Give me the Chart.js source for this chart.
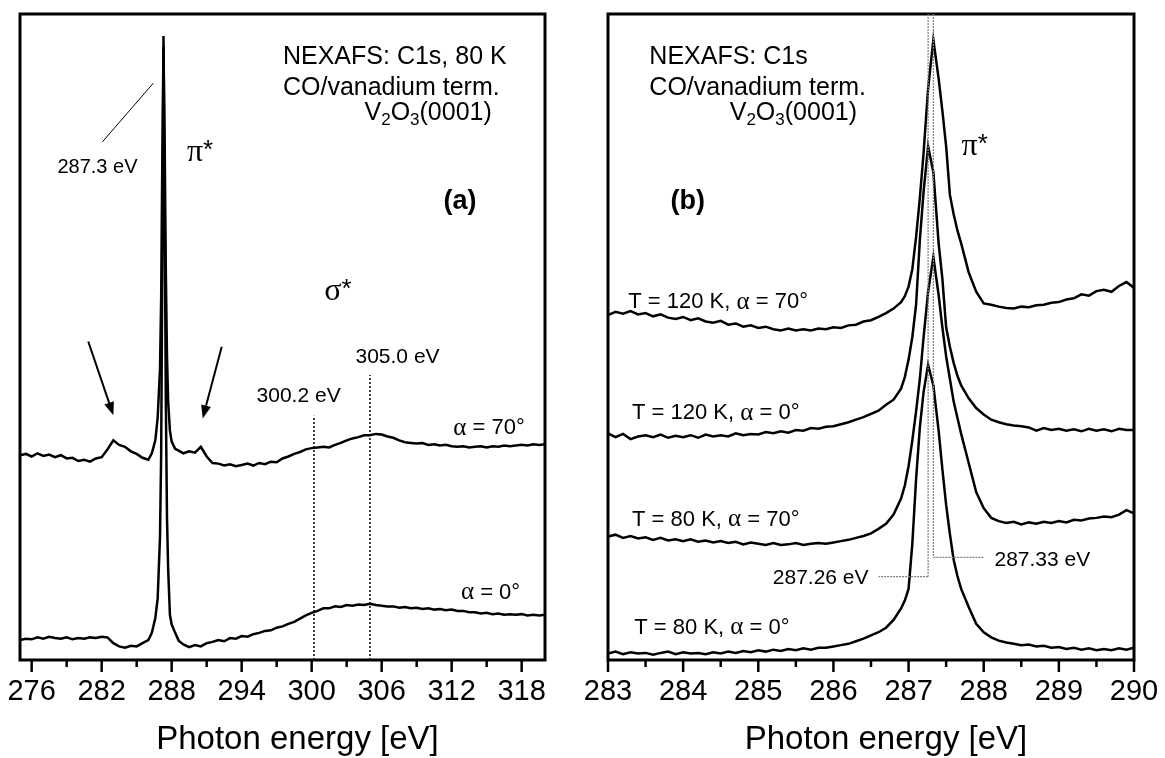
<!DOCTYPE html>
<html>
<head>
<meta charset="utf-8">
<script src="https://cdn.jsdelivr.net/npm/chart.js@4"></script>
<style>
  html, body { margin: 0; padding: 0; background: #fff; }
  #wrap { position: relative; width: 1165px; height: 758px; }
  canvas { position: absolute; top: 0; }
  #leftChart { left: 0; width: 580px; height: 758px; }
  #rightChart { left: 580px; width: 585px; height: 758px; }
</style>
</head>
<body>
<div id="wrap">
  <canvas id="leftChart" width="580" height="758"></canvas>
  <canvas id="rightChart" width="585" height="758"></canvas>
</div>
<script>
// ---- panel (a): wide scan, photon energy [eV] ----
const leftEnergy = [
  275, 275.5, 276, 276.5, 277, 277.5, 278, 278.5, 279, 279.5, 280, 280.5, 281, 281.5, 282, 282.5, 283, 283.5, 284, 284.5, 285, 285.5,
  286.0, 286.3, 286.6, 286.8, 287.0, 287.1, 287.2, 287.3, 287.4, 287.5, 287.6, 287.7, 287.85, 288.0, 288.3, 288.6,
  289, 289.5, 290, 290.5, 291, 291.5, 292, 292.5, 293, 293.5,
  294, 294.5, 295, 295.5, 296, 296.5, 297, 297.5, 298, 298.5,
  299, 299.5, 300, 300.5, 301, 301.5, 302, 302.5, 303, 303.5,
  304, 304.5, 305, 305.5, 306, 306.5, 307, 307.5, 308, 308.5,
  309, 309.5, 310, 310.5, 311, 311.5, 312, 312.5, 313, 313.5,
  314, 314.5, 315, 315.5, 316, 316.5, 317, 317.5, 318, 318.5,
  319, 319.5, 320
];
const leftAlpha70 = [
  31.7, 31.9, 31.5, 32.0, 31.6, 31.8, 31.4, 31.7, 31.2, 31.3, 30.8, 31.0, 30.7, 31.2, 31.4, 32.6, 34.0, 33.3, 33.0, 32.3, 31.9, 31.3,
  31.0, 32.0, 34.0, 37.5, 45, 56, 78, 95, 80, 60, 47, 40, 35.5, 33.8, 32.7, 32.4,
  32.0, 32.3, 32.1, 33.0, 31.5, 30.5, 30.4, 30.1, 30.3, 30.0,
  30.2, 30.4, 30.1, 30.5, 30.3, 30.7, 30.6, 31.2, 31.5, 31.9,
  32.2, 32.6, 32.8, 32.9, 33.0, 32.9, 33.3, 33.6, 34.0, 34.3,
  34.5, 34.8, 34.8, 35.0, 34.9, 34.6, 34.4, 34.0, 33.7, 33.6,
  33.5, 33.6, 33.3, 33.4, 33.2, 33.3, 33.1, 33.0, 33.1, 32.9,
  33.0, 33.1, 32.9, 33.1, 33.0, 33.2, 33.1, 33.2, 33.3, 33.2,
  33.4, 33.3, 33.4
];
const leftAlpha0 = [
  3.1, 3.3, 3.2, 3.5, 3.3, 3.6, 3.4, 3.3, 3.5, 3.2, 3.4, 3.3, 3.5, 3.4, 3.6, 3.5, 2.6, 2.1, 1.9, 2.2, 2.1, 2.6,
  3.1, 4.2, 6.5, 9.5, 19, 32, 62, 96.6, 70, 40, 22, 14, 7, 5.5, 4.2, 3.0,
  2.4, 2.0, 2.3, 2.1, 2.6, 2.8, 3.1, 2.9, 3.4, 3.3,
  3.7, 3.6, 4.0, 4.2, 4.5, 4.6, 5.0, 5.2, 5.6, 5.9,
  6.4, 6.9, 7.3, 7.6, 8.0, 8.0, 8.3, 8.2, 8.5, 8.4,
  8.6, 8.5, 8.7, 8.5, 8.4, 8.3, 8.3, 8.1, 8.2, 8.0,
  8.1, 7.9, 8.0, 7.8, 7.9, 7.7, 7.8, 7.6, 7.6, 7.4,
  7.4, 7.2, 7.3, 7.1, 7.2, 7.0, 7.1, 7.0, 7.1, 6.9,
  7.0, 6.9, 7.0
];
const leftTicksMajor = [276, 282, 288, 294, 300, 306, 312, 318];
const leftTicksMinor = [279, 285, 291, 297, 303, 309, 315];

// ---- panel (b): pi* region ----
const rightEnergy = [
  283.0, 283.1, 283.2, 283.3, 283.4, 283.5, 283.6, 283.7, 283.8, 283.9,
  284.0, 284.1, 284.2, 284.3, 284.4, 284.5, 284.6, 284.7, 284.8, 284.9,
  285.0, 285.1, 285.2, 285.3, 285.4, 285.5, 285.6, 285.7, 285.8, 285.9, 286.0,
  286.1, 286.2, 286.3, 286.4, 286.5, 286.6, 286.7, 286.8, 286.9, 286.95,
  287.0, 287.05, 287.1, 287.15, 287.2, 287.26, 287.33, 287.4, 287.45, 287.5,
  287.55, 287.6, 287.65, 287.7, 287.8, 287.9, 288.0,
  288.1, 288.2, 288.3, 288.4, 288.5, 288.6, 288.7, 288.8, 288.9, 289.0,
  289.1, 289.2, 289.3, 289.4, 289.5, 289.6, 289.7, 289.8, 289.9, 290.0
];
const t120Alpha70 = [
  53.4, 53.9, 53.6, 54.0, 53.5, 53.7, 53.2, 53.5, 53.0, 52.8,
  53.1, 52.6, 52.9, 52.4, 52.2, 52.5, 51.9, 52.1, 51.6, 51.8,
  51.4, 51.6, 51.2, 51.0, 51.3, 51.0, 51.2, 51.0, 51.3, 51.2, 51.5,
  51.4, 51.8, 51.9, 52.4, 52.6, 53.1, 53.7, 54.4, 55.4, 56.3,
  57.8, 60.5, 65.5, 71.5, 78.5, 88.5, 96, 90, 85, 79.5,
  72, 69, 66.5, 64.5, 60, 57, 55.2,
  55.0, 54.7, 54.5, 54.4, 54.7, 54.6, 54.9, 55.0, 55.3, 55.4,
  55.8, 56.0, 56.6, 56.4, 57.1, 57.3, 57.0, 57.9, 58.5, 57.6
];
const t120Alpha0 = [
  35.1, 34.5, 35.0, 34.2, 34.6, 34.8, 34.5, 34.9, 34.4, 34.7,
  34.5, 34.8, 34.4, 34.9, 34.6, 34.8, 34.6, 35.1, 34.8, 35.0,
  34.9, 35.3, 35.1, 35.4, 35.2, 35.6, 35.5, 35.9, 35.8, 36.1, 36.2,
  36.5, 36.8, 37.2, 37.6, 38.1, 38.6, 39.5, 40.3, 42.0, 43.8,
  46.5, 50, 55, 65, 72.5, 79.5, 75.5, 64.5, 59, 51.5,
  48.5, 46, 44, 42.5, 40.5, 39.0, 38.0,
  37.2, 36.8, 36.5, 36.3, 36.2, 36.0, 35.5, 35.9, 35.6, 35.8,
  35.5, 35.7, 35.4, 35.8, 35.5, 35.7, 35.4, 35.8, 35.6, 35.6
];
const t80Alpha70 = [
  19.1, 19.4, 18.9, 19.2, 18.8, 19.0, 18.6, 18.9, 18.5, 18.7,
  18.4, 18.7, 18.3, 18.5, 18.2, 18.4, 18.1, 18.3, 17.9, 18.2,
  18.0, 17.8, 18.1, 17.8, 17.9, 18.1, 17.8, 18.0, 18.1, 18.0, 18.2,
  18.4, 18.6, 18.9, 19.2, 19.6, 20.3, 21.1, 22.5, 25.0, 27.0,
  30, 34, 38.5, 43.5, 50, 57, 62.4, 56.5, 51.5, 47,
  43.5, 40, 37.5, 35, 30.5, 26, 23.5,
  22.0, 21.5, 21.2, 21.4, 21.0, 21.3, 21.1, 21.4, 21.2, 21.5,
  21.3, 21.7, 21.6, 21.9, 22.0, 22.2, 22.1, 22.5, 23.2, 22.7
];
const t80Alpha0 = [
  1.0, 1.3, 0.9, 1.2, 1.0, 1.1, 0.8, 1.1, 1.3, 0.9,
  1.2, 1.0, 1.1, 0.9, 1.2, 1.0, 1.3, 1.1, 1.4, 1.2,
  1.5, 1.3, 1.6, 1.4, 1.7, 1.5, 1.8, 1.6, 1.9, 1.9, 2.1,
  2.3, 2.5, 2.9, 3.3, 3.8, 4.3, 5.0, 6.2, 8.0, 9.2,
  11.0, 18.0, 28, 36, 41.5, 45.7, 42.5, 35.5, 29.5, 24,
  19.5, 15.5, 13, 11, 8.2, 5.6, 4.3,
  3.5, 3.0, 2.7, 2.5, 2.3, 2.4, 2.1, 2.2, 1.9, 2.0,
  1.7, 1.9, 1.6, 1.8, 1.5, 1.7, 1.5, 1.8, 1.6, 1.9
];
const rightTicksMajor = [283, 284, 285, 286, 287, 288, 289, 290];
const rightTicksMinor = [283.5, 284.5, 285.5, 286.5, 287.5, 288.5, 289.5];

const SANS = '"Liberation Sans", Arial, sans-serif';
const SERIF = '"Liberation Serif", "Times New Roman", serif';

function toPoints(xs, ys) {
  return xs.map((x, i) => ({ x: x, y: ys[i] }));
}

function seg(ctx, x1, y1, x2, y2) {
  ctx.beginPath();
  ctx.moveTo(x1, y1);
  ctx.lineTo(x2, y2);
  ctx.stroke();
}

function arrow(ctx, x1, y1, x2, y2) {
  const ang = Math.atan2(y2 - y1, x2 - x1);
  const len = 13, half = 5;
  const bx = x2 - len * Math.cos(ang), by = y2 - len * Math.sin(ang);
  ctx.lineWidth = 2;
  seg(ctx, x1, y1, bx, by);
  ctx.beginPath();
  ctx.moveTo(x2, y2);
  ctx.lineTo(bx + half * Math.sin(ang), by - half * Math.cos(ang));
  ctx.lineTo(bx - half * Math.sin(ang), by + half * Math.cos(ang));
  ctx.closePath();
  ctx.fill();
}

// parts: [text, font, dy]
function rich(ctx, parts, x, y, align) {
  let total = 0;
  parts.forEach((p) => { ctx.font = p[1]; total += ctx.measureText(p[0]).width; });
  let cx = align === "center" ? x - total / 2 : x;
  ctx.textAlign = "left";
  ctx.textBaseline = "middle";
  parts.forEach((p) => {
    ctx.font = p[1];
    ctx.fillText(p[0], cx, y + (p[2] || 0));
    cx += ctx.measureText(p[0]).width;
  });
}

const f = (size, fam, bold) => (bold ? "bold " : "") + size + "px " + (fam || SANS);

function header(ctx, X, Y, first, x0, xV) {
  rich(ctx, [[first, f(25)]], X(x0), Y(93.3), "left");
  rich(ctx, [["CO/vanadium term.", f(25)]], X(x0), Y(88.5), "left");
  rich(ctx, [["V", f(25)], ["2", f(17), 7], ["O", f(25)], ["3", f(17), 7], ["(0001)", f(25)]], X(xV), Y(84.7), "left");
}

function starLabel(ctx, sym, x, y) {
  rich(ctx, [[sym, f(32, SERIF)], ["*", f(26), -2]], x, y, "center");
}

function alphaLabel(ctx, pre, post, x, y, align) {
  rich(ctx, [[pre, f(22)], ["\u03b1", f(25, SERIF)], [post, f(22)]], x, y, align);
}

function leftNotes(chart, ctx) {
  const X = (v) => chart.scales.x.getPixelForValue(v);
  const Y = (v) => chart.scales.y.getPixelForValue(v);
  ctx.strokeStyle = "#000";
  ctx.fillStyle = "#000";
  ctx.lineWidth = 1.5;
  ctx.setLineDash([2, 2]);
  seg(ctx, X(300.2), Y(0), X(300.2), Y(37.8));
  seg(ctx, X(305.0), Y(0), X(305.0), Y(44.1));
  ctx.setLineDash([]);
  ctx.lineWidth = 1;
  seg(ctx, X(282.06), Y(80.2), X(286.43), Y(89.3));
  arrow(ctx, X(280.85), Y(49.3), X(283.0), Y(37.9));
  arrow(ctx, X(292.29), Y(48.5), X(290.66), Y(37.4));

  header(ctx, X, Y, "NEXAFS: C1s, 80 K", 297.54, 304.53);
  starLabel(ctx, "\u03c0", X(290.43), Y(78.5));
  starLabel(ctx, "\u03c3", X(302.26), Y(57.0));
  rich(ctx, [["(a)", f(27, SANS, true)]], X(312.71), Y(71.0), "center");
  rich(ctx, [["287.3 eV", f(20)]], X(281.64), Y(76.3), "center");
  rich(ctx, [["305.0 eV", f(21)]], X(307.36), Y(46.9), "center");
  rich(ctx, [["300.2 eV", f(21)]], X(298.88), Y(40.9), "center");
  alphaLabel(ctx, "", " = 70\u00b0", X(315.2), Y(35.9), "center");
  alphaLabel(ctx, "", " = 0\u00b0", X(315.33), Y(10.4), "center");
}

function rightNotes(chart, ctx) {
  const X = (v) => chart.scales.x.getPixelForValue(v);
  const Y = (v) => chart.scales.y.getPixelForValue(v);
  ctx.strokeStyle = "#808080";
  ctx.lineWidth = 1.2;
  ctx.setLineDash([2, 1]);
  seg(ctx, X(287.26), Y(100), X(287.26), Y(12.9));
  seg(ctx, X(287.26), Y(12.9), X(286.6), Y(12.9));
  seg(ctx, X(287.33), Y(100), X(287.33), Y(15.9));
  seg(ctx, X(287.33), Y(15.9), X(288.0), Y(15.9));
  ctx.setLineDash([]);
  ctx.fillStyle = "#000";

  header(ctx, X, Y, "NEXAFS: C1s", 283.55, 284.62);
  starLabel(ctx, "\u03c0", X(287.88), Y(79.4));
  rich(ctx, [["(b)", f(27, SANS, true)]], X(284.06), Y(71.0), "center");
  alphaLabel(ctx, "T = 120 K, ", " = 70\u00b0", X(283.27), Y(55.4), "left");
  alphaLabel(ctx, "T = 120 K, ", " = 0\u00b0", X(283.32), Y(38.2), "left");
  alphaLabel(ctx, "T = 80 K, ", " = 70\u00b0", X(283.32), Y(21.7), "left");
  alphaLabel(ctx, "T = 80 K, ", " = 0\u00b0", X(283.35), Y(5.0), "left");
  rich(ctx, [["287.33 eV", f(21)]], X(288.78), Y(15.5), "center");
  rich(ctx, [["287.26 eV", f(21)]], X(285.83), Y(12.7), "center");
}

function panelPlugin(major, minor, notes) {
  return {
    id: "panelFrame",
    afterDatasetsDraw(chart) {
      const ctx = chart.ctx;
      const a = chart.chartArea;
      const xs = chart.scales.x;
      ctx.save();
      ctx.strokeStyle = "#000";
      ctx.lineWidth = 3;
      ctx.strokeRect(a.left, a.top, a.right - a.left, a.bottom - a.top);
      ctx.lineWidth = 2.5;
      major.forEach((v) => seg(ctx, xs.getPixelForValue(v), a.bottom, xs.getPixelForValue(v), a.bottom + 12));
      minor.forEach((v) => seg(ctx, xs.getPixelForValue(v), a.bottom, xs.getPixelForValue(v), a.bottom + 7));
      ctx.fillStyle = "#000";
      rich(ctx, [["Photon energy [eV]", f(33)]], (a.left + a.right) / 2 + 15, 740, "center");
      notes(chart, ctx);
      ctx.restore();
    },
  };
}

function lineSet(points) {
  return {
    data: points,
    borderColor: "#000",
    borderWidth: 2.5,
    pointRadius: 0,
    tension: 0,
    fill: false,
  };
}

function panelOptions(xMin, xMax, major, pad) {
  return {
    responsive: false,
    animation: false,
    devicePixelRatio: 1,
    layout: { padding: { left: pad[0], right: pad[1], top: 14, bottom: 0 } },
    plugins: { legend: { display: false }, tooltip: { enabled: false } },
    scales: {
      x: {
        type: "linear",
        min: xMin,
        max: xMax,
        afterBuildTicks: (s) => { s.ticks = major.map((v) => ({ value: v })); },
        afterFit: (s) => {
          s.height = 98;
          s.paddingLeft = 0;
          s.paddingRight = 0;
        },
        grid: { display: false, drawTicks: false },
        border: { display: false },
        ticks: {
          color: "#000",
          font: { family: SANS, size: 29 },
          padding: 15,
          maxRotation: 0,
          autoSkip: false,
        },
      },
      y: { display: false, min: 0, max: 100 },
    },
  };
}

new Chart(document.getElementById("leftChart"), {
  type: "line",
  data: {
    datasets: [
      lineSet(toPoints(leftEnergy, leftAlpha70)),
      lineSet(toPoints(leftEnergy, leftAlpha0)),
    ],
  },
  options: panelOptions(275, 320, leftTicksMajor, [20, 35]),
  plugins: [panelPlugin(leftTicksMajor, leftTicksMinor, leftNotes)],
});

new Chart(document.getElementById("rightChart"), {
  type: "line",
  data: {
    datasets: [
      lineSet(toPoints(rightEnergy, t120Alpha70)),
      lineSet(toPoints(rightEnergy, t120Alpha0)),
      lineSet(toPoints(rightEnergy, t80Alpha70)),
      lineSet(toPoints(rightEnergy, t80Alpha0)),
    ],
  },
  options: panelOptions(283, 290, rightTicksMajor, [28, 31]),
  plugins: [panelPlugin(rightTicksMajor, rightTicksMinor, rightNotes)],
});
</script>
</body>
</html>
